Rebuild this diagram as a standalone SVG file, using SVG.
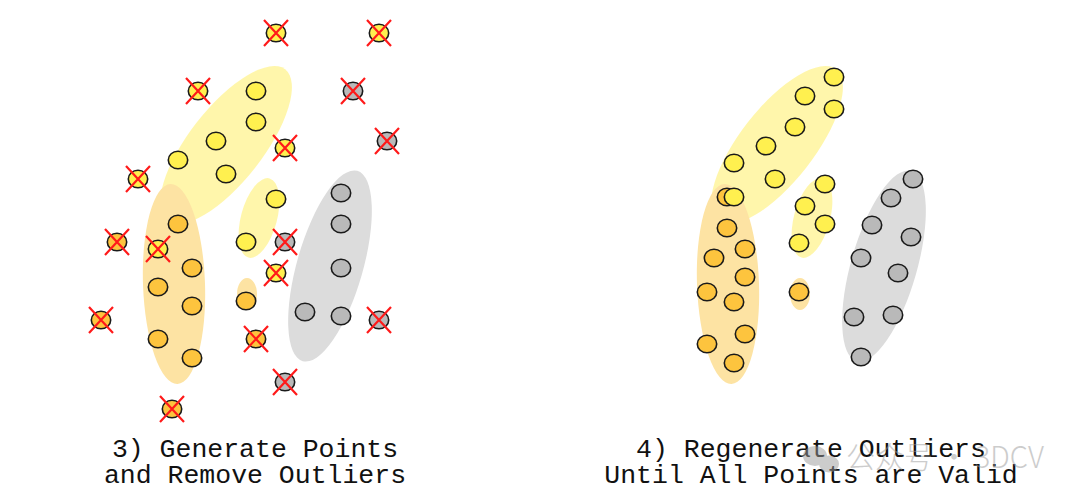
<svg xmlns="http://www.w3.org/2000/svg" xmlns:xlink="http://www.w3.org/1999/xlink" width="1080" height="503" viewBox="0 0 1080 503">
<style>
.bY{fill:#fff6a6;opacity:0.95}
.bO{fill:#fde3a3}
.bG{fill:#dcdcdc}
.p{stroke:#1a1a1a;stroke-width:1.6}
.y{fill:#fff04f}
.o{fill:#fdc43e}
.g{fill:#b9b9b9}
.x{stroke:#ff1a1a;stroke-width:2.2;fill:none}
.t{font-family:"Liberation Mono","Courier New",monospace;font-size:26.5px;fill:#111;text-anchor:middle}
.w{font-family:"Noto Sans CJK SC","Noto Sans",sans-serif;font-size:30px;font-weight:300;fill:#9a9a9a;opacity:0.5}
</style>
<defs>
<path id="cross" class="x" d="M-12,-13 L12,13 M12,-13 L-12,13"/>
<ellipse id="pt" rx="9.7" ry="8.8"/>
</defs>
<rect width="1080" height="503" fill="#fff"/>

<!-- Left panel: clusters -->
<g id="left-clusters">
<ellipse class="bY" cx="226" cy="145" rx="96" ry="37" transform="rotate(-52 226 145)"/>
<ellipse class="bO" cx="174" cy="284" rx="31" ry="100" transform="rotate(-2 174 284)"/>
<ellipse class="bY" cx="259" cy="218" rx="18" ry="41" transform="rotate(15 259 218)"/>
<ellipse class="bO" cx="247" cy="294" rx="10" ry="16"/>
<ellipse class="bG" cx="330" cy="266" rx="33" ry="99" transform="rotate(16 330 266)"/>
</g>

<g id="left-points">
<g class="p y">
<use href="#pt" x="256" y="91"/><use href="#pt" x="256" y="122"/><use href="#pt" x="216" y="141"/>
<use href="#pt" x="178" y="160"/><use href="#pt" x="226" y="174"/><use href="#pt" x="276" y="199"/>
<use href="#pt" x="246" y="242"/>
</g>
<g class="p o">
<use href="#pt" x="178" y="224"/><use href="#pt" x="192" y="268"/><use href="#pt" x="158" y="287"/>
<use href="#pt" x="192" y="306"/><use href="#pt" x="158" y="339"/><use href="#pt" x="192" y="358"/>
<use href="#pt" x="246" y="301"/>
</g>
<g class="p g">
<use href="#pt" x="341" y="193"/><use href="#pt" x="341" y="224"/><use href="#pt" x="341" y="268"/>
<use href="#pt" x="305" y="312"/><use href="#pt" x="341" y="316"/>
</g>
</g>

<g id="left-outliers">
<g class="p y">
<use href="#pt" x="276" y="33"/><use href="#pt" x="379" y="33"/><use href="#pt" x="198" y="91"/>
<use href="#pt" x="285" y="148"/><use href="#pt" x="138" y="179"/><use href="#pt" x="158" y="249"/>
<use href="#pt" x="276" y="273"/>
</g>
<g class="p o">
<use href="#pt" x="117" y="242"/><use href="#pt" x="101" y="320"/><use href="#pt" x="256" y="339"/>
<use href="#pt" x="172" y="409"/>
</g>
<g class="p g">
<use href="#pt" x="353" y="91"/><use href="#pt" x="387" y="141"/><use href="#pt" x="285" y="242"/>
<use href="#pt" x="379" y="320"/><use href="#pt" x="285" y="382"/>
</g>
<g>
<use href="#cross" x="276" y="33"/><use href="#cross" x="379" y="33"/><use href="#cross" x="198" y="91"/>
<use href="#cross" x="285" y="148"/><use href="#cross" x="138" y="179"/><use href="#cross" x="158" y="249"/>
<use href="#cross" x="276" y="273"/><use href="#cross" x="117" y="242"/><use href="#cross" x="101" y="320"/>
<use href="#cross" x="256" y="339"/><use href="#cross" x="172" y="409"/><use href="#cross" x="353" y="91"/>
<use href="#cross" x="387" y="141"/><use href="#cross" x="285" y="242"/><use href="#cross" x="379" y="320"/>
<use href="#cross" x="285" y="382"/>
</g>
</g>

<!-- Right panel -->
<g id="right-clusters">
<ellipse class="bY" cx="777" cy="145" rx="96" ry="37" transform="rotate(-52 777 145)"/>
<ellipse class="bO" cx="728" cy="284" rx="31" ry="100" transform="rotate(-2 728 284)"/>
<ellipse class="bY" cx="812" cy="218" rx="18" ry="41" transform="rotate(15 812 218)"/>
<ellipse class="bO" cx="800" cy="294" rx="10" ry="16"/>
<ellipse class="bG" cx="884" cy="266" rx="33" ry="99" transform="rotate(16 884 266)"/>
</g>

<g id="right-points">
<g class="p o">
<use href="#pt" x="727" y="197"/>
<use href="#pt" x="727" y="228"/><use href="#pt" x="745" y="249"/><use href="#pt" x="714" y="258"/>
<use href="#pt" x="745" y="277"/><use href="#pt" x="707" y="292"/><use href="#pt" x="734" y="302"/>
<use href="#pt" x="745" y="334"/><use href="#pt" x="707" y="344"/><use href="#pt" x="734" y="363"/>
<use href="#pt" x="799" y="292"/>
</g>
<g class="p y">
<use href="#pt" x="834" y="77"/><use href="#pt" x="805" y="96"/><use href="#pt" x="834" y="109"/>
<use href="#pt" x="795" y="127"/><use href="#pt" x="766" y="146"/><use href="#pt" x="734" y="163"/>
<use href="#pt" x="775" y="179"/><use href="#pt" x="734" y="197"/>
<use href="#pt" x="825" y="184"/><use href="#pt" x="805" y="206"/><use href="#pt" x="825" y="224"/>
<use href="#pt" x="799" y="243"/>
</g>
<g class="p g">
<use href="#pt" x="913" y="179"/><use href="#pt" x="891" y="198"/><use href="#pt" x="872" y="225"/>
<use href="#pt" x="911" y="237"/><use href="#pt" x="861" y="258"/><use href="#pt" x="898" y="273"/>
<use href="#pt" x="854" y="317"/><use href="#pt" x="893" y="315"/><use href="#pt" x="861" y="357"/>
</g>
</g>

<g id="captions">
<text class="t" x="255" y="457">3) Generate Points</text>
<text class="t" x="255" y="483">and Remove Outliers</text>
<text class="t" x="811" y="457">4) Regenerate Outliers</text>
<text class="t" x="811" y="483">Until All Points are Valid</text>
</g>

<g id="watermark">
<g fill="#9a9a9a" opacity="0.5">
<ellipse cx="815" cy="456" rx="12" ry="10"/>
<ellipse cx="829" cy="464" rx="10" ry="8.5"/>
</g>
<text class="w" x="846" y="468" textLength="198" lengthAdjust="spacingAndGlyphs">公众号 · 3DCV</text>
</g>
</svg>
